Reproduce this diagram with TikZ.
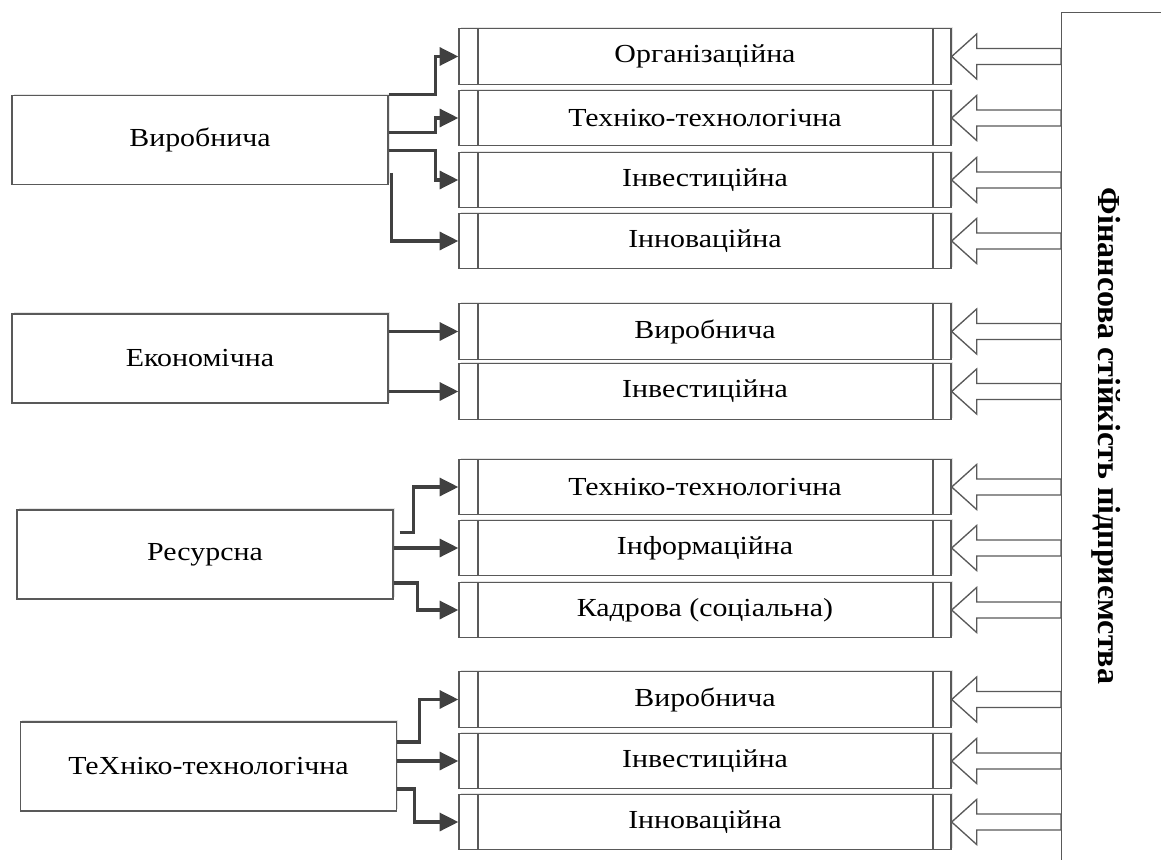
\documentclass[tikz,border=0pt]{standalone}
\usepackage{fontspec}
\setmainfont{Liberation Serif}
\newfontfamily\boxfont[FakeStretch=1.15]{Liberation Serif}
\usetikzlibrary{arrows.meta,calc,shadows}

\definecolor{linegray}{RGB}{89,89,89}
\definecolor{arrgray}{RGB}{64,64,64}

\tikzset{
  boxshadow/.style={drop shadow={shadow xshift=1.2pt,shadow yshift=1.2pt,fill=black!10,opacity=1}},
  leftbox/.style={draw=linegray,line width=1pt,fill=white,boxshadow,
    minimum width=282pt,minimum height=66.75pt,
    font=\boxfont\fontsize{19.5}{22}\selectfont},
  subbox/.style={draw=linegray,line width=1pt,fill=white,boxshadow,
    minimum width=369pt,minimum height=41.6pt,
    font=\boxfont\fontsize{19.5}{22}\selectfont,
    path picture={
      \draw[linegray,line width=1pt]
        ([xshift=14.25pt]path picture bounding box.north west) -- ([xshift=14.25pt]path picture bounding box.south west)
        ([xshift=-13.5pt]path picture bounding box.north east) -- ([xshift=-13.5pt]path picture bounding box.south east);}},
  conn/.style={draw=arrgray,line width=2.3pt,-{Triangle[length=14pt,width=13.5pt]}},
  blk/.style={draw=linegray,line width=1pt,fill=white},
}

% hollow arrow from the right frame to a box
\newcommand{\blockarr}[1]{%
  \draw[blk] (#1.east) -- ++(25,-22.5) -- ++(0,14.5)
    -- ($(fin.west |- #1.east)+(0,-8)$) -- ++(0,16)
    -- ($(#1.east)+(25,8)$) -- ++(0,14.5) -- cycle;}

\begin{document}
\begin{tikzpicture}[x=0.75pt,y=0.75pt,yscale=-1,xscale=1]
\useasboundingbox (0,0) rectangle (1161,860);

%Right frame
\node[draw=linegray,line width=1pt,fill=white,anchor=north west,
  minimum width=150pt,minimum height=675pt,inner sep=0pt] (fin) at (1061,12) {};
\node[rotate=-90,font=\bfseries\fontsize{24}{28}\selectfont] (title) at (1106,436)
  {Фінансова стійкість підприємства};

%Left boxes
\node[leftbox] (vyr) at (200,140) {Виробнича};
\node[leftbox] (ek) at (200,358.5) {Економічна};
\node[leftbox] (res) at (205,554.5) {Ресурсна};
\node[leftbox] (teh) at (208.5,766.5) {ТеХніко-технологічна};

%Right boxes
\node[subbox] (o1) at (705,56.5) {Організаційна};
\node[subbox] (o2) at (705,118) {Техніко-технологічна};
\node[subbox] (o3) at (705,180) {Інвестиційна};
\node[subbox] (o4) at (705,241) {Інноваційна};
\node[subbox] (e1) at (705,331.5) {Виробнича};
\node[subbox] (e2) at (705,391.5) {Інвестиційна};
\node[subbox] (r1) at (705,487) {Техніко-технологічна};
\node[subbox] (r2) at (705,548) {Інформаційна};
\node[subbox] (r3) at (705,610) {Кадрова (соціальна)};
\node[subbox] (t1) at (705,699.5) {Виробнича};
\node[subbox] (t2) at (705,761) {Інвестиційна};
\node[subbox] (t3) at (705,822) {Інноваційна};

%Hollow arrows
\foreach \b in {o1,o2,o3,o4,e1,e2,r1,r2,r3,t1,t2,t3}
  {\blockarr{\b}}

%Connectors
\draw[conn] (vyr.north east) -- ++(47,0) |- (o1.west);
\draw[conn] ($(vyr.north east)+(0,38)$) -- ++(47,0) |- (o2.west);
\draw[conn] ($(vyr.north east)+(0,56)$) -- ++(47,0) |- (o3.west);
\draw[conn] ($(vyr.north east)+(3,78)$) |- (o4.west);

\draw[conn] (ek.east |- e1.west) -- (e1.west);
\draw[conn] (ek.east |- e2.west) -- (e2.west);

\draw[conn] ($(res.east)+(6,-22)$) -- ++(14,0) |- (r1.west);
\draw[conn] (res.east |- r2.west) -- (r2.west);
\draw[conn] ($(res.east)+(0,28.5)$) -- ++(24,0) |- (r3.west);

\draw[conn] ($(teh.east)+(0,-24.5)$) -- ++(22,0) |- (t1.west);
\draw[conn] (teh.east |- t2.west) -- (t2.west);
\draw[conn] ($(teh.east)+(0,22.5)$) -- ++(17,0) |- (t3.west);

\end{tikzpicture}
\end{document}
